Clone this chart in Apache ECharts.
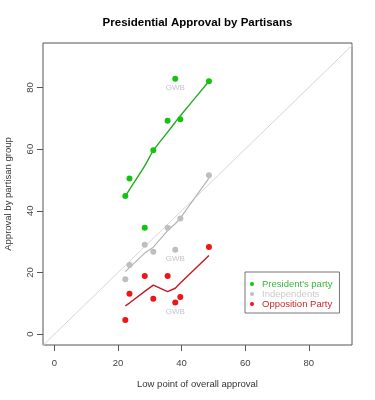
<!DOCTYPE html>
<html>
<head>
<meta charset="utf-8">
<script src="https://cdn.jsdelivr.net/npm/echarts@6/dist/echarts.min.js"></script>
<style>
  html, body { margin: 0; padding: 0; background: #fff; }
  #main { width: 375px; height: 400px; }
</style>
</head>
<body>
<div id="main"></div>
<script>
// low point of overall approval for each president (x)
var lowPoint = [22.3, 23.6, 28.4, 31.1, 35.6, 38.0, 39.6, 48.6];
var gwbIndex = 5;

// approval within each partisan group at that low point
var presParty = [44.8, 50.5, 34.5, 59.6, 69.2, 82.8, 69.7, 82.0];
var independents = [17.8, 22.4, 29.0, 26.7, 34.5, 27.4, 37.5, 51.5];
var opposition = [4.6, 13.1, 18.9, 11.5, 18.9, 10.3, 12.1, 28.3];

// smoothed fits
var presFit = [44.7, 46.9, 54.6, 59.5, 65.5, 68.7, 70.8, 82.0];
var indFit = [20.3, 21.6, 26.3, 28.2, 33.6, 35.8, 37.6, 50.6];
var oppFit = [9.2, 10.1, 13.9, 15.9, 13.8, 14.9, 16.6, 25.5];

// 45 degree reference line
var identity = [-5, 100];

var tickValues = [0, 20, 40, 60, 80];

function pts(ys) {
    var out = [];
    for (var i = 0; i < lowPoint.length; i++) {
        var p = { value: [lowPoint[i], ys[i]] };
        if (i == gwbIndex) {
            p.label = {
                show: true, formatter: 'GWB', position: 'bottom', distance: 2,
                color: '#c6c2cc', fontSize: 8, fontFamily: 'Liberation Sans'
            };
        }
        out.push(p);
    }
    return out;
}

function fit(ys) {
    var out = [];
    for (var i = 0; i < lowPoint.length; i++) out.push([lowPoint[i], ys[i]]);
    return out;
}

var chart = echarts.init(document.getElementById('main'));

var option = {
    animation: false,
    textStyle: { fontFamily: 'Liberation Sans' },
    grid: {
        left: 43, top: 43, width: 309, height: 302,
        outerBoundsMode: 'none', containLabel: false,
        show: true, borderColor: '#555', borderWidth: 1, backgroundColor: 'transparent'
    },
    graphic: [{
        type: 'text', x: 197.5, y: 23,
        style: {
            text: 'Presidential Approval by Partisans',
            fontFamily: 'Liberation Sans', fontWeight: 'bold', fontSize: 11.5,
            fill: '#000', textAlign: 'center', textVerticalAlign: 'middle'
        }
    }],
    legend: {
        left: 245, top: 272,
        orient: 'vertical',
        icon: 'circle',
        itemWidth: 12, itemHeight: 4, itemGap: 0,
        padding: [7, 7, 4, 5],
        borderColor: '#777', borderWidth: 1,
        data: [
            { name: "President's party", textStyle: { color: '#3cb43c' } },
            { name: 'Independents', textStyle: { color: '#cccccc' } },
            { name: 'Opposition Party', textStyle: { color: '#c8282d' } }
        ],
        textStyle: { fontSize: 9.5, lineHeight: 9.8, padding: [0, 0, 0, -1] }
    },
    xAxis: {
        type: 'value', min: -3.6, max: 93.6,
        name: 'Low point of overall approval', nameLocation: 'middle', nameGap: 34,
        nameTextStyle: { fontSize: 9.5, color: '#333' },
        splitLine: { show: false },
        axisLine: { show: false, onZero: false },
        axisTick: { show: true, inside: false, length: 6, customValues: tickValues, lineStyle: { color: '#555' } },
        axisLabel: { customValues: tickValues, fontSize: 9.5, color: '#444', margin: 13 }
    },
    yAxis: {
        type: 'value', min: -3.5, max: 94.4,
        name: 'Approval by partisan group', nameLocation: 'middle', nameGap: 30, nameRotate: 90,
        nameTextStyle: { fontSize: 9.5, color: '#333' },
        splitLine: { show: false },
        axisLine: { show: false, onZero: false },
        axisTick: { show: true, inside: false, length: 6, customValues: tickValues, lineStyle: { color: '#555' } },
        axisLabel: { customValues: tickValues, fontSize: 9.5, color: '#444', margin: 8, rotate: 90 }
    },
    series: [
        {
            name: 'identity', type: 'line', silent: true, symbol: 'none', clip: true,
            data: [[identity[0], identity[0]], [identity[1], identity[1]]],
            lineStyle: { color: '#d6d6d6', width: 1 }, z: 1
        },
        {
            name: 'presFit', type: 'line', symbol: 'none', data: fit(presFit), smooth: 0.3,
            lineStyle: { color: '#1fae1f', width: 1.4 }, z: 2
        },
        {
            name: 'indFit', type: 'line', symbol: 'none', data: fit(indFit),
            lineStyle: { color: '#b4b4b4', width: 1.2 }, z: 2
        },
        {
            name: 'oppFit', type: 'line', symbol: 'none', data: fit(oppFit),
            lineStyle: { color: '#c41a26', width: 1.4 }, z: 2
        },
        {
            name: "President's party", type: 'scatter', symbolSize: 6,
            itemStyle: { color: '#12c412', opacity: 1 }, data: pts(presParty), z: 3
        },
        {
            name: 'Independents', type: 'scatter', symbolSize: 6,
            itemStyle: { color: '#bebebe', opacity: 1 }, data: pts(independents), z: 3
        },
        {
            name: 'Opposition Party', type: 'scatter', symbolSize: 6,
            itemStyle: { color: '#f01414', opacity: 1 }, data: pts(opposition), z: 3
        }
    ]
};

chart.setOption(option);
</script>
</body>
</html>
